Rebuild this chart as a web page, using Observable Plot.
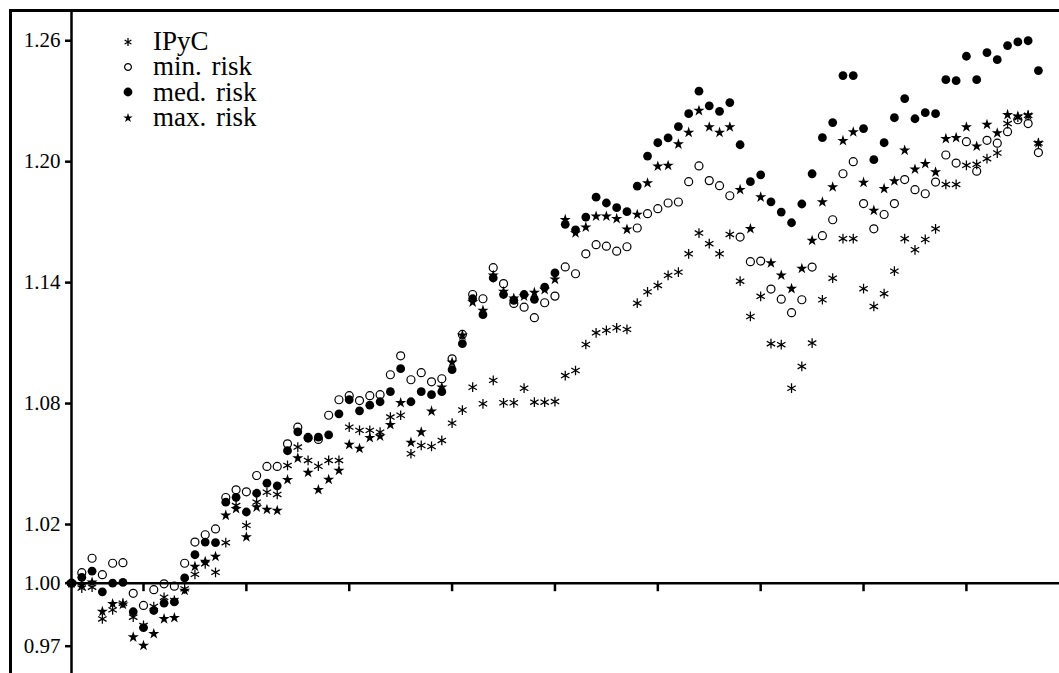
<!DOCTYPE html>
<html><head><meta charset="utf-8">
<script src="https://cdn.jsdelivr.net/npm/d3@7"></script>
<script src="https://cdn.jsdelivr.net/npm/@observablehq/plot@0.6"></script>
<style>
html,body{margin:0;padding:0;background:#fff;overflow:hidden;}
#wrap{position:relative;width:1059px;height:673px;overflow:hidden;}
#frame{position:absolute;left:9px;top:9px;width:1100px;height:700px;border-left:3px solid #000;border-top:3px solid #000;pointer-events:none;}
#legend{position:absolute;left:118px;top:29px;font-family:"Liberation Serif",serif;font-size:27px;color:#000;}
.row{display:flex;align-items:center;height:25.3px;white-space:pre;}
.row svg{width:20px;height:20px;margin-right:15px;flex:none;}
.row span{display:inline-block;height:25px;line-height:25px;overflow:visible;word-spacing:3px;}
</style></head><body>
<div id="wrap"><div id="chart"></div><div id="frame"></div><div id="legend"></div></div>
<script>
// ---- data ----
const seriesNames = ["IPyC", "min. risk", "med. risk", "max. risk"];

const ipyc = [1.0000,0.9977,0.9981,0.9830,0.9873,0.9905,0.9838,0.9799,0.9889,0.9933,
  0.9918,0.9973,1.0030,1.0066,1.0037,1.0138,1.0294,1.0197,1.0311,1.0360,
  1.0349,1.0493,1.0584,1.0518,1.0489,1.0518,1.0518,1.0683,1.0667,1.0667,
  1.0658,1.0733,1.0742,1.0551,1.0592,1.0587,1.0617,1.0703,1.0768,1.0881,
  1.0799,1.0915,1.0804,1.0804,1.0876,1.0807,1.0807,1.0810,1.0939,1.0964,
  1.1093,1.1151,1.1163,1.1176,1.1168,1.1298,1.1354,1.1386,1.1436,1.1452,
  1.1543,1.1646,1.1593,1.1543,1.1639,1.1407,1.1232,1.1332,1.1097,1.1092,
  1.0876,1.0984,1.1100,1.1315,1.1422,1.1618,1.1618,1.1370,1.1282,1.1345,
  1.1457,1.1618,1.1563,1.1614,1.1667,1.1887,1.1887,1.1982,1.1987,1.2015,
  1.2043,1.2189,1.2221,1.2230,1.2092];

const minRisk = [1.0000,1.0036,1.0085,1.0029,1.0068,1.0070,0.9952,0.9894,0.9969,0.9997,
  0.9986,1.0068,1.0140,1.0165,1.0185,1.0334,1.0372,1.0362,1.0443,1.0488,
  1.0488,1.0600,1.0683,1.0632,1.0622,1.0742,1.0819,1.0839,1.0815,1.0839,
  1.0844,1.0943,1.1037,1.0918,1.0953,1.0908,1.0923,1.1022,1.1143,1.1341,
  1.1320,1.1474,1.1395,1.1297,1.1278,1.1226,1.1300,1.1333,1.1478,1.1444,
  1.1543,1.1588,1.1581,1.1556,1.1578,1.1671,1.1742,1.1767,1.1795,1.1800,
  1.1901,1.1979,1.1906,1.1881,1.1831,1.1626,1.1504,1.1507,1.1368,1.1318,
  1.1251,1.1315,1.1477,1.1633,1.1712,1.1940,1.2000,1.1792,1.1667,1.1738,
  1.1792,1.1911,1.1861,1.1841,1.1899,1.2033,1.1993,1.2099,1.1953,1.2106,
  1.2092,1.2149,1.2208,1.2189,1.2045];

const medRisk = [1.0000,1.0020,1.0041,0.9959,1.0000,1.0003,0.9864,0.9788,0.9870,0.9905,
  0.9911,1.0018,1.0097,1.0140,1.0138,1.0311,1.0335,1.0262,1.0355,1.0405,
  1.0392,1.0566,1.0660,1.0628,1.0633,1.0645,1.0749,1.0819,1.0764,1.0792,
  1.0809,1.0859,1.0973,1.0809,1.0859,1.0844,1.0859,1.0968,1.1097,1.1320,
  1.1241,1.1423,1.1341,1.1312,1.1341,1.1317,1.1378,1.1448,1.1689,1.1662,
  1.1725,1.1824,1.1795,1.1772,1.1752,1.1879,1.2028,1.2094,1.2118,1.2174,
  1.2238,1.2350,1.2277,1.2250,1.2293,1.2084,1.1901,1.1935,1.1801,1.1750,
  1.1697,1.1790,1.1940,1.2119,1.2194,1.2427,1.2427,1.2164,1.2010,1.2094,
  1.2218,1.2313,1.2213,1.2243,1.2238,1.2407,1.2402,1.2523,1.2407,1.2541,
  1.2506,1.2576,1.2594,1.2600,1.2452];

const maxRisk = [1.0000,0.9991,1.0003,0.9865,0.9902,0.9899,0.9743,0.9703,0.9759,0.9830,
  0.9835,0.9965,1.0057,1.0074,1.0091,1.0245,1.0278,1.0157,1.0286,1.0274,
  1.0269,1.0422,1.0529,1.0458,1.0372,1.0423,1.0468,1.0596,1.0577,1.0630,
  1.0638,1.0695,1.0804,1.0607,1.0658,1.0762,1.0881,1.1005,1.1138,1.1303,
  1.1262,1.1436,1.1356,1.1322,1.1332,1.1351,1.1365,1.1416,1.1712,1.1646,
  1.1675,1.1729,1.1729,1.1717,1.1664,1.1738,1.1894,1.1977,1.1981,1.2087,
  1.2145,1.2253,1.2172,1.2145,1.2172,1.1861,1.1667,1.1824,1.1497,1.1436,
  1.1370,1.1470,1.1609,1.1800,1.1874,1.2104,1.2147,1.1897,1.1758,1.1866,
  1.1904,1.2056,1.1962,1.1990,1.1948,1.2114,1.2119,1.2172,1.2076,1.2184,
  1.2142,1.2233,1.2225,1.2230,1.2092];

const yTickValues = [0.97, 1.00, 1.02, 1.08, 1.14, 1.20, 1.26];
const yTickLabels = ["0.97", "1.00", "1.02", "1.08", "1.14", "1.20", "1.26"];
const xTickPositions = [7, 17, 27, 37, 47, 57, 67, 77, 87];
const baseline = 1.00;

// ---- build ----
const seriesValues = [ipyc, minRisk, medRisk, maxRisk];
const rows = seriesValues.map((vals, k) => vals.map((v, i) => ({i, v, s: seriesNames[k]})));
const labelOf = new Map(yTickValues.map((v, k) => [v, yTickLabels[k]]));

const tickDown = {draw(ctx) { ctx.moveTo(0, 0); ctx.lineTo(0, 8); }};

const symStyles = [
  {symbol: "asterisk", r: 4.6, stroke: "#000", strokeWidth: 1.25, fill: "none"},
  {symbol: "circle", r: 4, stroke: "#000", strokeWidth: 1.2, fill: "none"},
  {symbol: "circle", r: 4.4, stroke: "none", fill: "#000"},
  {symbol: "star", r: 3.5, stroke: "none", fill: "#000"}
];
const legendScale = [0.8, 0.85, 1, 0.85];

const chart = Plot.plot({
  width: 1059,
  height: 673,
  marginLeft: 71,
  marginTop: 10,
  marginRight: 0,
  marginBottom: 0,
  style: {fontFamily: "'Liberation Serif', serif", fontSize: "21px", color: "#000", background: "transparent", overflow: "visible"},
  x: {type: "linear", domain: [0, 96.05], axis: null},
  y: {type: "linear", domain: [0.957, 0.97, 1.00, 1.02, 1.275], range: [673, 645.7, 582.7, 524, 10], axis: null, nice: false, zero: false, label: null},
  marks: [
    Plot.ruleY([baseline], {stroke: "#000", strokeWidth: 2.5}),
    Plot.ruleX([0], {stroke: "#000", strokeWidth: 2.5}),
    Plot.dot(xTickPositions, {x: d => d, y: () => baseline, symbol: tickDown, stroke: "#000", strokeWidth: 2.5, fill: "none"}),
    Plot.axisY({anchor: "left", label: null, ticks: yTickValues, tickFormat: d => labelOf.get(d), tickSize: 6, tickPadding: 5, fontSize: 21, strokeWidth: 2.5, stroke: "#000", fill: "#000"}),
    ...rows.map((data, k) => Plot.dot(data, {x: "i", y: "v", ...symStyles[k]}))
  ]
});
document.getElementById("chart").appendChild(chart);

// ---- legend (HTML overlay) ----
const legend = document.getElementById("legend");
const d3sym = {asterisk: d3.symbolAsterisk, circle: d3.symbolCircle, star: d3.symbolStar};
seriesNames.forEach((name, k) => {
  const st = symStyles[k];
  const row = document.createElement("div");
  row.className = "row";
  const svg = d3.create("svg").attr("viewBox", "-10 -10 20 20");
  const rr = st.r * legendScale[k];
  const size = Math.PI * rr * rr;
  svg.append("path").attr("d", d3.symbol(d3sym[st.symbol], size)())
    .attr("fill", st.fill).attr("stroke", st.stroke).attr("stroke-width", st.strokeWidth || 0);
  row.appendChild(svg.node());
  const span = document.createElement("span");
  span.textContent = name;
  row.appendChild(span);
  legend.appendChild(row);
});
</script>
</body></html>
